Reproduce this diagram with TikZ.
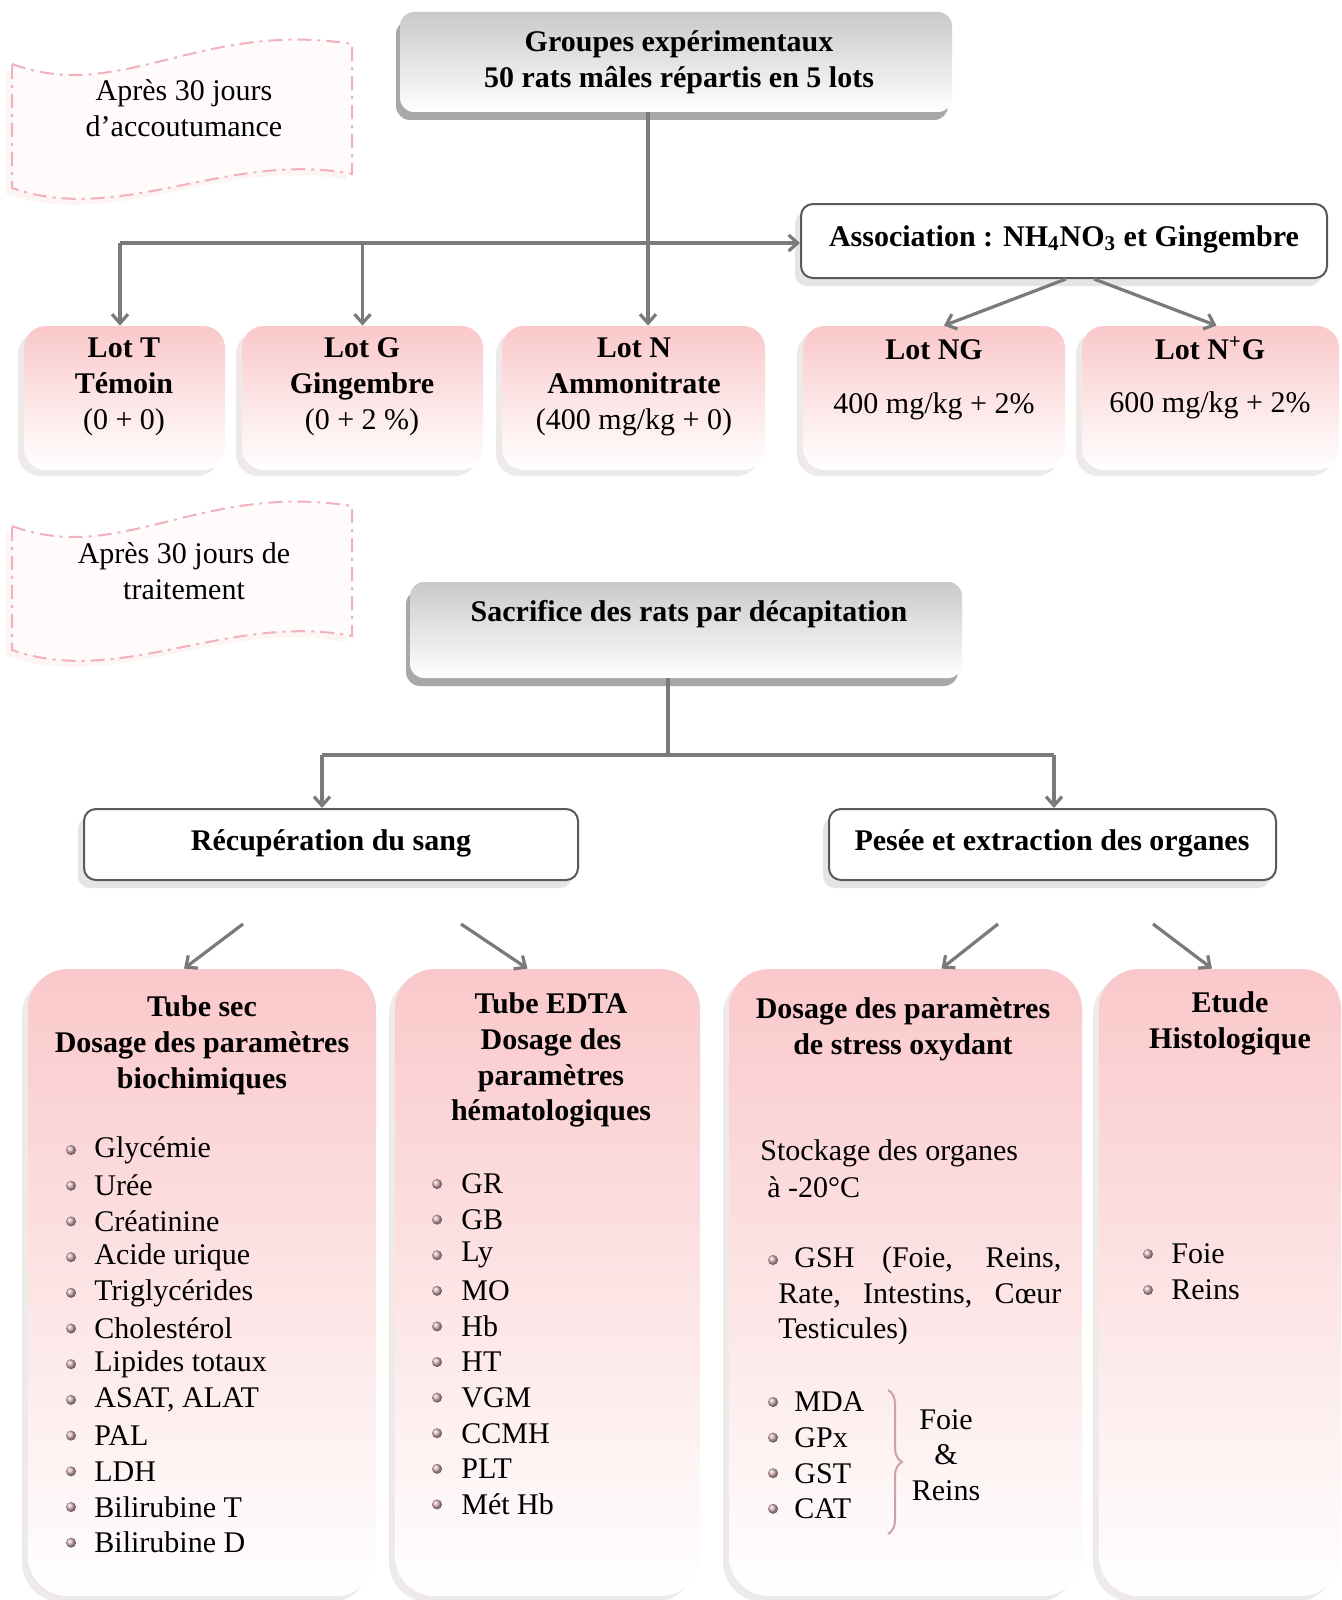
\documentclass[tikz,border=0pt]{standalone}
\usepackage{fontspec}
\setmainfont{Liberation Serif}
\usetikzlibrary{arrows.meta,shadows,fit,decorations.pathreplacing}
\definecolor{rose}{RGB}{250,200,202}
\definecolor{trait}{RGB}{122,122,122}
\definecolor{pointille}{RGB}{242,176,190}
\definecolor{puce}{RGB}{205,160,170}
\begin{document}
\fontsize{15}{17.9}\selectfont
\begin{tikzpicture}[x=0.5pt,y=-0.5pt,
  every path/.style={>={Straight Barb[length=4.5pt,width=8pt]}},
  arr/.style={->,draw=trait,line width=1.6pt},
  grisbox/.style={rounded corners=7pt,top color=gray!42,bottom color=white,inner sep=0pt,
    drop shadow={shadow xshift=-2pt,shadow yshift=-4pt,fill=gray!75,opacity=.9}},
  blanc/.style={rounded corners=6pt,draw=gray!70!black,line width=1pt,fill=white,inner sep=0pt,
    drop shadow={shadow xshift=-3pt,shadow yshift=-4pt,fill=gray!25,opacity=.8}},
  lotbox/.style={rounded corners=11pt,top color=rose,bottom color=white,inner sep=0pt,
    drop shadow={shadow xshift=-3pt,shadow yshift=-3pt,fill=rose!40!gray!35,opacity=.6}},
  grand/.style={lotbox,rounded corners=20pt},
  vague/.style={fill=rose!8,draw=pointille,line width=1pt,dash pattern=on 7pt off 3pt on 1.5pt off 3pt,
    drop shadow={shadow xshift=-3pt,shadow yshift=-3pt,fill=rose!50,opacity=.4}},
  titre/.style={font=\bfseries,align=center},
  texte/.style={align=center},
  bul/.style={circle,inner sep=0pt,minimum size=5pt,ball color=puce!80!white},
  liste/.style={anchor=west,inner sep=0pt}]
\fill[white] (0,0) rectangle (1341,1600);
\useasboundingbox (0,0) rectangle (1341,1600);

\path[vague] (12,64) .. controls (120,104) and (200,20) .. (352,44) -- (352,174)
  .. controls (230,150) and (120,226) .. (12,188) -- cycle;
\path[vague,shift={(0,462)}] (12,64) .. controls (120,104) and (200,20) .. (352,44) -- (352,174)
  .. controls (230,150) and (120,226) .. (12,188) -- cycle;
\node[texte] (c1) at (184,108) {Après 30 jours\\d’accoutumance};
\node[texte] (c2) at (184,571) {Après 30 jours de\\traitement};

\node[grisbox,fit={(400,12) (952,112)}] (grp) {};
\node[titre] (tgrp) at (679,62) {Groupes expérimentaux\\50 rats mâles répartis en 5 lots};

\node[blanc,fit={(801,204) (1327,278)}] (assoc) {};
\node[titre] (tassoc) at (1064,239) {Association : NH\textsubscript{4}NO\textsubscript{3} et Gingembre};

\node[lotbox,fit={(24,326) (225,470)}]   (lotT)  {};
\node[lotbox,fit={(242,326) (483,470)}]  (lotG)  {};
\node[lotbox,fit={(502,326) (765,470)}]  (lotN)  {};
\node[lotbox,fit={(803,326) (1065,470)}] (lotNG) {};
\node[lotbox,fit={(1082,326) (1339,470)}] (lotNpG) {};
\node[texte] (tT)  at (124,387) {\textbf{Lot T}\\\textbf{Témoin}\\(0 + 0)};
\node[texte] (tG)  at (362,387) {\textbf{Lot G}\\\textbf{Gingembre}\\(0 + 2 \%)};
\node[texte] (tN)  at (634,387) {\textbf{Lot N}\\\textbf{Ammonitrate}\\(400 mg/kg + 0)};
\node[texte] (tNG) at (934,380) {\textbf{Lot NG}\\[9pt]400 mg/kg + 2\%};
\node[texte] (tNpG) at (1210,378) {\textbf{Lot N\textsuperscript{+}G}\\[9pt]600 mg/kg + 2\%};

\coordinate (j1) at (648,243);
\draw[arr] (grp.south -| j1) -- (j1 |- lotN.north);
\draw[arr] (j1 -| 120,0) -- (j1 -| assoc.west);
\draw[arr] (120,243) -- (120,0 |- lotT.north);
\draw[arr] (j1 -| lotG.north) -- (lotG.north);
\draw[arr] ([xshift=1pt]assoc.south) -- ([xshift=5pt]lotNG.north);
\draw[arr] ([xshift=15pt]assoc.south) -- ([xshift=3pt]lotNpG.north);

\node[grisbox,fit={(410,582) (962,678)}] (sac) {};
\node[titre] (tsac) at (689,614) {Sacrifice des rats par décapitation};

\node[blanc,fit={(84,809) (578,880)}] (rec) {};
\node[titre] (trec) at (331,843) {Récupération du sang};
\node[blanc,fit={(829,809) (1276,880)}] (pes) {};
\node[titre] (tpes) at (1052,843) {Pesée et extraction des organes};

\coordinate (j2) at (668,755);
\draw[arr,-] (sac.south -| j2) -- (j2);
\draw[arr,-] (j2 -| 322,0) -- (j2 -| 1054,0);
\draw[arr] (322,755) -- (322,0 |- rec.north);
\draw[arr] (1054,755) -- (1054,0 |- pes.north);

\node[grand,fit={(28,969) (376,1596)}]   (sec)  {};
\node[grand,fit={(395,969) (700,1596)}]  (edta) {};
\node[grand,fit={(729,969) (1082,1596)}] (stress) {};
\node[grand,fit={(1099,969) (1341,1596)}] (histo) {};

\coordinate (d1) at (243,924);
\coordinate (d2) at (461,924);
\coordinate (d3) at (998,924);
\coordinate (d4) at (1153,924);
\draw[arr] (d1) -- ([xshift=-9pt]sec.north);
\draw[arr] (d2) -- ([xshift=-10pt]edta.north);
\draw[arr] (d3) -- ([xshift=18pt]stress.north);
\draw[arr] (d4) -- ([xshift=-4pt]histo.north);

\node[titre] (tsec)  at (202,1045) {Tube sec\\Dosage des paramètres\\biochimiques};
\node[titre] (tedta) at (551,1060) {Tube EDTA\\Dosage des\\paramètres\\hématologiques};
\node[titre] (tstr)  at (903,1029) {Dosage des paramètres\\de stress oxydant};
\node[titre] (thi)   at (1230,1023) {Etude\\Histologique};

\foreach \t [count=\i from 0] in {Glycémie,Urée,Créatinine,Acide urique,Triglycérides,Cholestérol,
  Lipides totaux,{ASAT, ALAT},PAL,LDH,Bilirubine T,Bilirubine D}{
  \node[bul] (bs\i) at (71,1150+35.7*\i) {};
  \node[liste] (ls\i) at (94,1150+35.7*\i) {\t};
}
\foreach \t [count=\i from 0] in {GR,GB,Ly,MO,Hb,HT,VGM,CCMH,PLT,Mét Hb}{
  \node[bul] (be\i) at (437,1184+35.6*\i) {};
  \node[liste] (le\i) at (461,1184+35.6*\i) {\t};
}

\node[liste] (stk) at (760,1153) {Stockage des organes};
\node[liste] (tmp) at (767,1187) {à -20°C};
\node[bul] (bgsh) at (773,1260) {};
\node[liste] (g1) at (794,1260) {\makebox[133.5pt][s]{GSH (Foie, Reins,}};
\node[liste] (g2) at (778,1296) {\makebox[141.5pt][s]{Rate, Intestins, Cœur}};
\node[liste] (g3) at (778,1331) {Testicules)};
\foreach \t [count=\i from 0] in {MDA,GPx,GST,CAT}{
  \node[bul] (bo\i) at (773,1402+35.6*\i) {};
  \node[liste] (lo\i) at (794,1402+35.6*\i) {\t};
}
\draw[draw=puce,line width=1pt,decorate,decoration={brace,amplitude=7pt}] (888,1390) -- (888,1534);
\node[texte] (fr) at (946,1455) {Foie\\\&\\Reins};

\node[bul] (bh0) at (1148,1254) {};
\node[liste] (lh0) at (1171,1254) {Foie};
\node[bul] (bh1) at (1148,1290) {};
\node[liste] (lh1) at (1171,1290) {Reins};
\end{tikzpicture}
\end{document}
